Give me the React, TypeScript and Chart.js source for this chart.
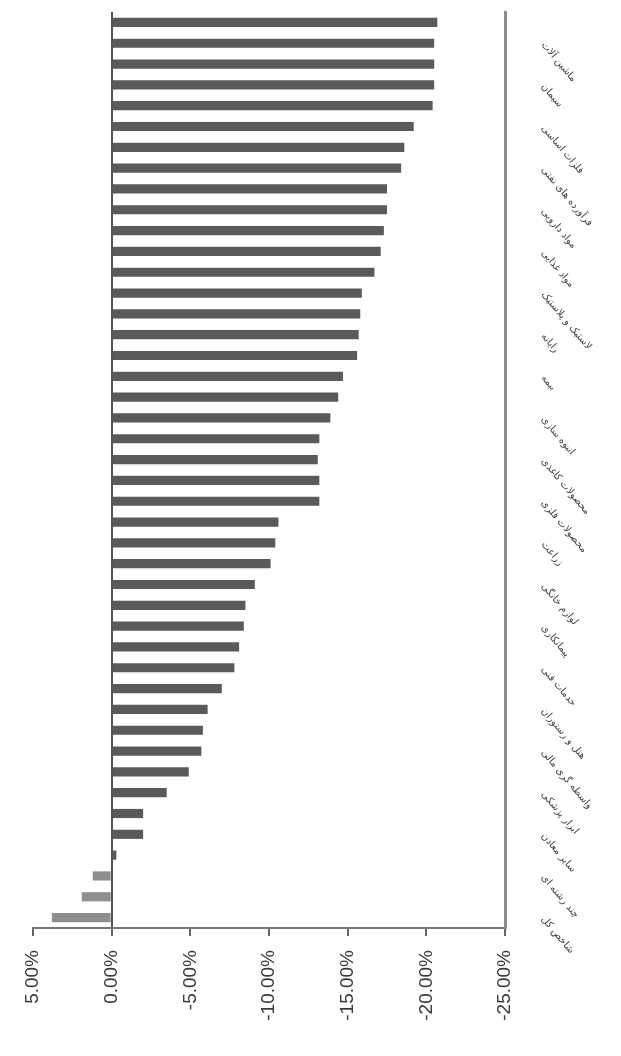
import React, { useEffect, useRef } from "react";
import { Chart, registerables } from "chart.js";

Chart.register(...registerables);

const categories: string[] = [
  "شاخص کل", "کشاورزی", "چند رشته ای", "محصولات چرمی", "سایر معادن",
  "استخراج نفت", "ابزار پزشکی", "تجارت عمده", "واسطه گری مالی", "چاپ",
  "هتل و رستوران", "اطلاعات و ارتباطات", "خدمات فنی", "عرضه برق", "پیمانکاری",
  "محصولات چوبی", "لوازم خانگی", "زغال سنگ", "زراعت", "دستگاه های برقی",
  "محصولات فلزی", "منسوجات", "محصولات کاغذی", "کانی غیرفلزی", "انبوه سازی",
  "سرمایه گذاری ها", "بیمه", "مخابرات", "رایانه", "حمل و نقل",
  "لاستیک و پلاستیک", "کاشی و سرامیک", "مواد غذایی", "قند و شکر", "مواد دارویی",
  "کانه های فلزی", "فرآورده های نفتی", "محصولات شیمیایی", "فلزات اساسی", "بانک ها",
  "سیمان", "خودرو", "ماشین آلات", "رادیویی",
];

const returnsPct: number[] = [
  3.8, 1.9, 1.2, -0.3, -2.0, -2.0, -3.5, -4.9, -5.7, -5.8,
  -6.1, -7.0, -7.8, -8.1, -8.4, -8.5, -9.1, -10.1, -10.4, -10.6,
  -13.2, -13.2, -13.1, -13.2, -13.9, -14.4, -14.7, -15.6, -15.7, -15.8,
  -15.9, -16.7, -17.1, -17.3, -17.5, -17.5, -18.4, -18.6, -19.2, -20.4,
  -20.5, -20.5, -20.5, -20.7,
];

const valueMin = -25;
const valueMax = 5;
const valueStep = 5;

export default function App() {
  const canvasRef = useRef<HTMLCanvasElement | null>(null);

  useEffect(() => {
    document.body.style.margin = "0";
    const canvas = canvasRef.current;
    if (!canvas) return;
    const chart = new Chart(canvas, {
      type: "bar",
      data: {
        labels: categories,
        datasets: [
          {
            data: returnsPct,
            backgroundColor: returnsPct.map((v) => (v > 0 ? "#8e8e8e" : "#5a5a5a")),
            borderWidth: 0,
            barPercentage: 0.55,
            categoryPercentage: 0.8,
          },
        ],
      },
      options: {
        indexAxis: "y",
        animation: false,
        responsive: true,
        maintainAspectRatio: false,
        layout: { padding: { left: 33, top: 12, right: 0, bottom: 0 } },
        plugins: { legend: { display: false }, tooltip: { enabled: false } },
        scales: {
          x: {
            type: "linear",
            position: "bottom",
            min: valueMin,
            max: valueMax,
            reverse: true,
            afterFit: (s: any) => {
              s.height = 128;
              s.paddingLeft = 0;
              s.paddingRight = 0;
            },
            ticks: {
              stepSize: valueStep,
              minRotation: 90,
              maxRotation: 90,
              padding: 14,
              color: "#3a3a3a",
              font: { family: "Liberation Sans", size: 19 },
              callback: (v: any) => `${Number(v).toFixed(2)}%`,
            },
            grid: {
              display: true,
              drawOnChartArea: true,
              drawTicks: true,
              tickLength: 8,
              color: (ctx: any) => (ctx.tick && ctx.tick.value === 0 ? "#555" : "rgba(0,0,0,0)"),
              tickColor: "#666",
              lineWidth: 2,
            },
            border: { display: true, color: "#777", width: 2 },
          },
          y: {
            type: "category",
            position: "right",
            reverse: true,
            afterFit: (s: any) => {
              s.width = 116;
              s.paddingTop = 0;
              s.paddingBottom = 0;
            },
            ticks: {
              autoSkip: false,
              minRotation: -50,
              maxRotation: -50,
              padding: 30,
              color: "#444",
              font: { family: "DejaVu Sans", size: 10 },
              callback: (_v: any, i: number) => (i % 2 === 0 ? categories[i] : ""),
            },
            grid: { display: false },
            border: { display: true, color: "#8c8c8c", width: 3 },
          },
        },
      },
    });
    return () => chart.destroy();
  }, []);

  return (
    <div style={{ width: 621, height: 1056, position: "relative", background: "#fff" }}>
      <canvas ref={canvasRef} />
    </div>
  );
}
